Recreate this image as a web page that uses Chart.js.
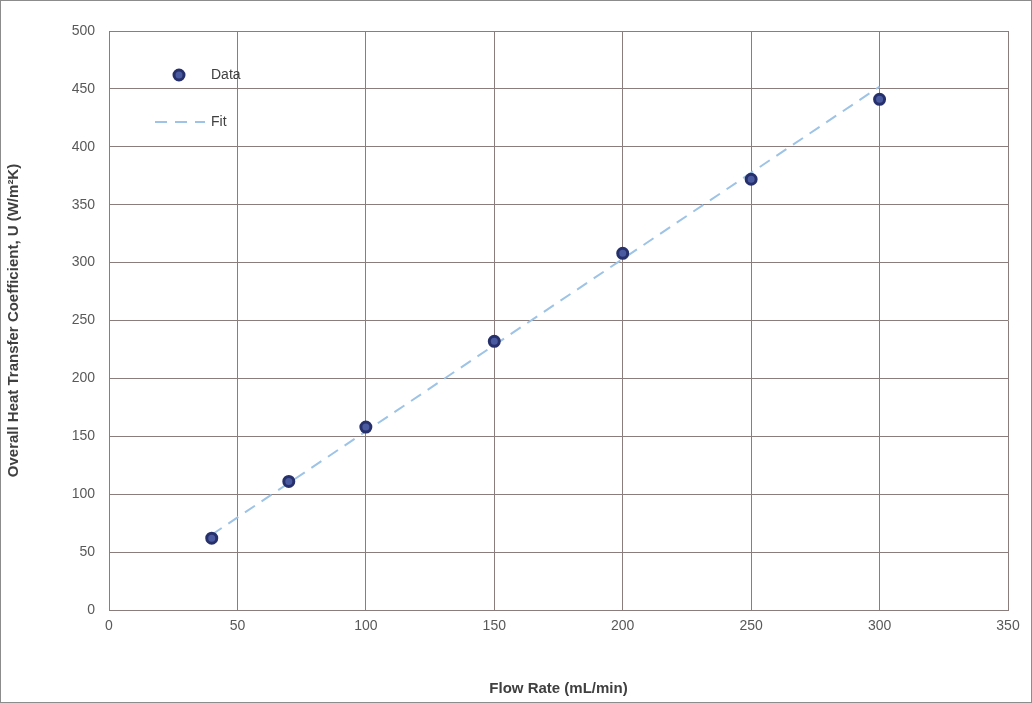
<!DOCTYPE html>
<html>
<head>
<meta charset="utf-8">
<script src="https://cdn.jsdelivr.net/npm/chart.js@4"></script>
<style>
  html, body { margin: 0; padding: 0; background: #fff; }
  #wrap { position: relative; width: 1030px; height: 701px; border: 1px solid #8c8c8c; }
</style>
</head>
<body>
<div id="wrap"><canvas id="uChart" width="1030" height="701"></canvas></div>
<script>
// Measured data
const flowRates = [40, 70, 100, 150, 200, 250, 300];
const uValues = [62, 111, 158, 232, 308, 372, 441];
// Linear fit end points
const fitX = [40, 300];
const fitY = [65, 452];

const dataPts = flowRates.map((x, i) => ({ x: x, y: uValues[i] }));
const fitPts = fitX.map((x, i) => ({ x: x, y: fitY[i] }));

// Legend drawn inside the plot area
const innerLegend = {
  id: 'innerLegend',
  afterDraw(chart) {
    const c = chart.ctx;
    c.save();
    c.beginPath();
    c.arc(178, 74, 5, 0, Math.PI * 2);
    c.fillStyle = '#4a5aa0';
    c.fill();
    c.lineWidth = 3;
    c.strokeStyle = '#26306b';
    c.stroke();
    c.setLineDash([12, 8]);
    c.strokeStyle = '#9dc3e6';
    c.lineWidth = 2;
    c.beginPath();
    c.moveTo(154, 121);
    c.lineTo(204, 121);
    c.stroke();
    c.fillStyle = '#404040';
    c.font = '14px "Liberation Sans", Arial';
    c.textBaseline = 'middle';
    c.fillText('Data', 210, 74);
    c.fillText('Fit', 210, 121);
    c.restore();
  }
};

const ctx = document.getElementById('uChart').getContext('2d');
new Chart(ctx, {
  type: 'scatter',
  data: {
    datasets: [{
      label: 'Data',
      data: dataPts,
      backgroundColor: '#4a5aa0',
      borderColor: '#26306b',
      borderWidth: 3,
      pointRadius: 5
    }, {
      label: 'Fit',
      data: fitPts,
      showLine: true,
      borderColor: '#9dc3e6',
      borderWidth: 2,
      borderDash: [12, 8],
      pointRadius: 0
    }]
  },
  options: {
    responsive: false,
    animation: false,
    layout: { padding: { top: 30, right: 23, left: 0, bottom: 0 } },
    plugins: { legend: { display: false }, tooltip: { enabled: false } },
    scales: {
      x: {
        min: 0, max: 350,
        ticks: { stepSize: 50, color: '#595959', padding: 8, font: { size: 14, family: 'Liberation Sans' } },
        grid: { color: '#8b7d7b', drawTicks: false },
        border: { color: '#8b7d7b' },
        title: { display: true, text: 'Flow Rate (mL/min)', color: '#404040', font: { size: 15, weight: 'bold', family: 'Liberation Sans' }, padding: { top: 30 } },
        afterFit(s) { s.height = 92; }
      },
      y: {
        min: 0, max: 500,
        ticks: { stepSize: 50, color: '#595959', padding: 14, font: { size: 14, family: 'Liberation Sans' } },
        grid: { color: '#8b7d7b', drawTicks: false },
        border: { color: '#8b7d7b' },
        title: { display: true, text: 'Overall Heat Transfer Coefficient, U (W/m²K)', color: '#404040', font: { size: 15, weight: 'bold', family: 'Liberation Sans' } },
        afterFit(s) { s.width = 108; }
      }
    }
  },
  plugins: [innerLegend]
});
</script>
</body>
</html>
